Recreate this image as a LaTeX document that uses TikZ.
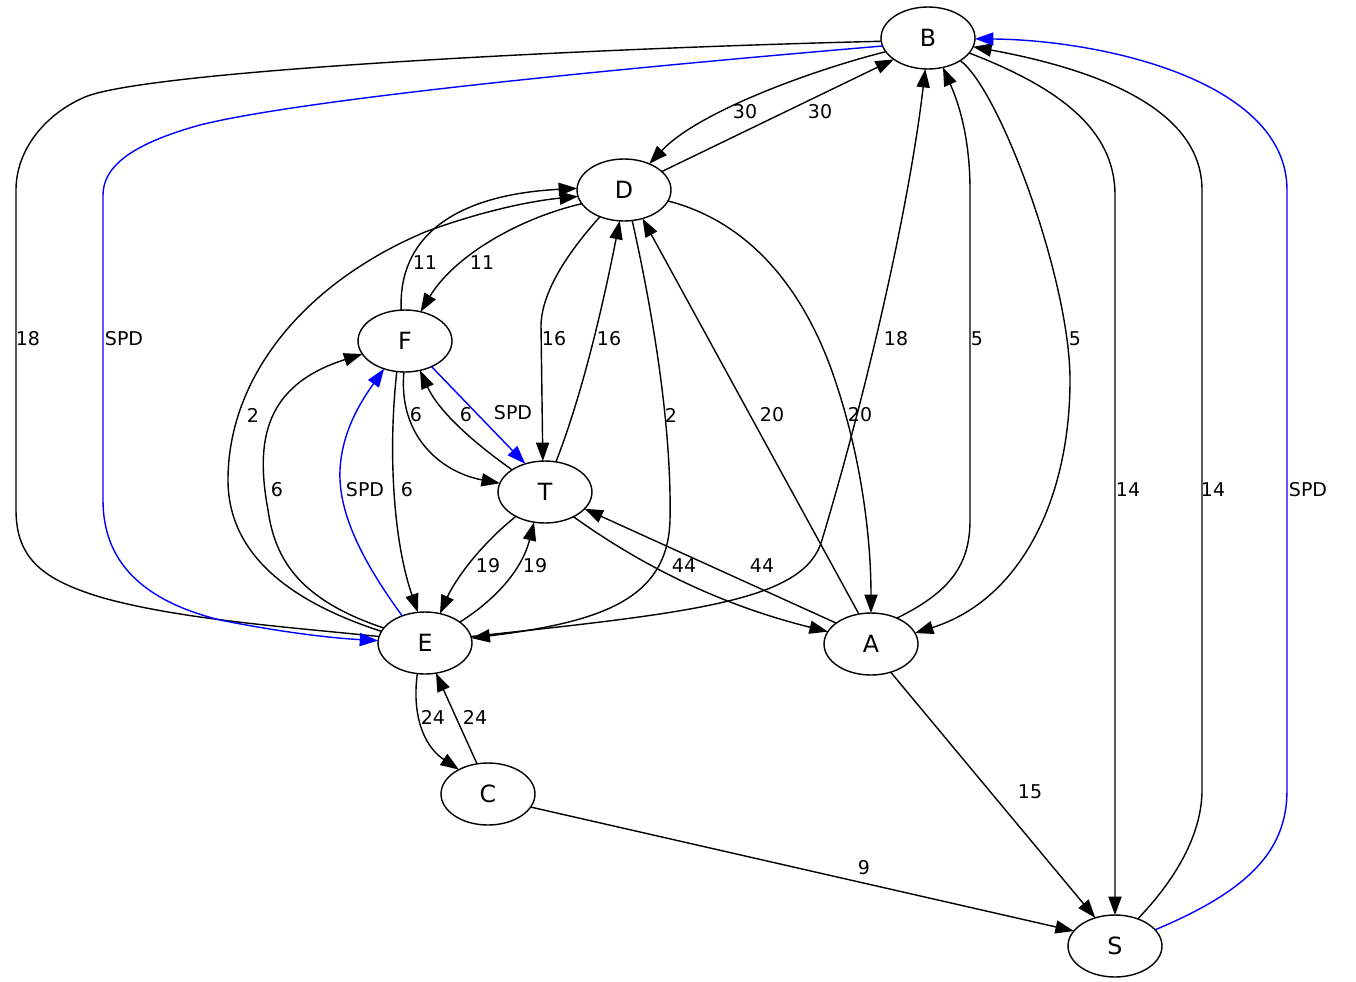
\documentclass[tikz,border=0pt]{standalone}
\usepackage{fontspec}
\setmainfont{DejaVu Sans}
\usetikzlibrary{shapes.geometric,arrows.meta}
\tikzset{
    %Define standard arrow tip
    >={Triangle[length=10.5pt,width=7.5pt]},
    % Define arrow style
    pil/.style={
           ->,
           line width=0.8pt,},
    bare/.style={line width=0.8pt},
    spd/.style={pil, blue}
}
\newcommand{\nodewidth}{1.88cm}
\newcommand{\nodeheight}{1.24cm}

\begin{document}
\begin{tikzpicture}[x=0.02cm, y=-0.02cm, outer sep=0pt]
\tikzstyle{city}=[draw, ellipse, line width=0.8pt, minimum height=\nodeheight, minimum width=\nodewidth, inner sep=0pt, font=\fontsize{13.5}{16}\selectfont]
\tikzstyle{lbl}=[inner sep=0pt, font=\fontsize{10.8}{13}\selectfont]

\useasboundingbox (0,0) rectangle (1356,981);

\node[city] (B) at (928,38) {B};
\node[city] (D) at (624,190) {D};
\node[city] (F) at (405,341) {F};
\node[city] (T) at (545,492) {T};
\node[city] (E) at (425,643) {E};
\node[city] (A) at (871,644) {A};
\node[city] (C) at (488,794) {C};
\node[city] (S) at (1115,946) {S};

% B and D
\draw[pil] (B.198) .. controls (820,68) and (700,110) .. (D.46);
\draw[pil] (D.26) -- (B.212);

% long ways round
\draw[bare] (B.184) .. controls (600,48) and (150,70) .. (85,97) .. controls (45,114) and (16,150) .. (16,190) -- (16,510) .. controls (16,560) and (45,580) .. (100,597) .. controls (180,620) and (300,628) .. (E.172);
\draw[spd] (B.190) .. controls (600,70) and (300,100) .. (200,125) .. controls (135,143) and (103,165) .. (103,195) -- (103,500) .. controls (103,560) and (140,600) .. (220,620) .. controls (280,632) and (330,638) .. (E.177);
\draw[pil] (E.8) .. controls (700,612) and (805,600) .. (822,540) .. controls (870,380) and (910,200) .. (B.265);

% D
\draw[pil] (D.285) .. controls (650,300) and (672,420) .. (670,520) .. controls (668,600) and (600,622) .. (E.6);
\draw[pil] (E.165) .. controls (300,605) and (228,560) .. (228,480) .. controls (228,380) and (300,285) .. (425,232) .. controls (490,208) and (540,200) .. (D.188);
\draw[pil] (D.198) .. controls (520,218) and (455,255) .. (F.62);
\draw[pil] (F.97) .. controls (398,240) and (450,195) .. (D.178);
\draw[pil] (D.228) .. controls (570,250) and (542,290) .. (541,325) -- (T.94);
\draw[pil] (T.70) .. controls (580,400) and (600,320) .. (D.262);
\draw[pil] (D.346) .. controls (750,222) and (805,290) .. (835,380) .. controls (862,460) and (871,540) .. (A.90);
\draw[pil] (A.112) -- (D.303);

% F, T and E
\draw[pil] (F.268) .. controls (398,435) and (440,472) .. (T.169);
\draw[pil] (T.146) .. controls (470,440) and (438,410) .. (F.297);
\draw[spd] (F.316) -- (T.125);
\draw[pil] (F.255) .. controls (388,450) and (393,540) .. (E.103);
\draw[pil] (E.160) .. controls (300,600) and (275,560) .. (268,510) .. controls (255,440) and (265,385) .. (F.197);
\draw[spd] (E.130) .. controls (365,565) and (338,515) .. (340,470) .. controls (342,430) and (362,400) .. (F.233);
\draw[pil] (T.220) .. controls (480,545) and (455,580) .. (E.63);
\draw[pil] (E.31) .. controls (495,600) and (522,570) .. (T.250);
\draw[pil] (T.319) .. controls (620,550) and (700,600) .. (A.164);
\draw[pil] (A.149) -- (T.337);

% B, A and S
\draw[pil] (B.325) .. controls (1000,90) and (1070,280) .. (1070,380) .. controls (1070,500) and (1020,600) .. (A.14);
\draw[pil] (A.45) .. controls (950,592) and (970,565) .. (970,520) -- (970,190) .. controls (970,130) and (955,95) .. (B.297);
\draw[pil] (B.340) .. controls (1060,88) and (1115,130) .. (1115,195) -- (S.90);
\draw[pil] (S.50) .. controls (1180,875) and (1202,830) .. (1202,790) -- (1202,190) .. controls (1202,110) and (1100,70) .. (B.349);
\draw[spd] (S.22) .. controls (1250,890) and (1287,850) .. (1287,790) -- (1287,190) .. controls (1287,80) and (1100,40) .. (B.359);
\draw[pil] (A.305) -- (S.125);

% C
\draw[pil] (E.256) .. controls (412,712) and (422,745) .. (C.140);
\draw[pil] (C.110) -- (E.290);
\draw[pil] (C.343) -- (S.160);

% weights
\node[lbl] (wBD) at (745,112) {30};
\node[lbl] (wDB) at (820,112) {30};
\node[lbl] (wBEl) at (28,339) {18};
\node[lbl] (sBE) at (124,339) {SPD};
\node[lbl] (wFD) at (425,263) {11};
\node[lbl] (wDF) at (482,263) {11};
\node[lbl] (wDT) at (554,339) {16};
\node[lbl] (wTD) at (609,339) {16};
\node[lbl] (wEB) at (896,339) {18};
\node[lbl] (wAB) at (977,339) {5};
\node[lbl] (wBA) at (1075,339) {5};
\node[lbl] (wED) at (253,415) {2};
\node[lbl] (wFT) at (416,415) {6};
\node[lbl] (wTF) at (466,415) {6};
\node[lbl] (sFT) at (513,413) {SPD};
\node[lbl] (wDE) at (671,415) {2};
\node[lbl] (wAD) at (772,415) {20};
\node[lbl] (wDA) at (860,415) {20};
\node[lbl] (wEF) at (277,490) {6};
\node[lbl] (sEF) at (365,490) {SPD};
\node[lbl] (wFE) at (407,490) {6};
\node[lbl] (wBS) at (1128,490) {14};
\node[lbl] (wSB) at (1213,490) {14};
\node[lbl] (sSB) at (1308,490) {SPD};
\node[lbl] (wTE) at (488,566) {19};
\node[lbl] (wET) at (535,566) {19};
\node[lbl] (wTA) at (684,566) {44};
\node[lbl] (wAT) at (762,566) {44};
\node[lbl] (wEC) at (433,717) {24};
\node[lbl] (wCE) at (475,717) {24};
\node[lbl] (wAS) at (1030,792) {15};
\node[lbl] (wCS) at (864,868) {9};

\end{tikzpicture}
\end{document}
